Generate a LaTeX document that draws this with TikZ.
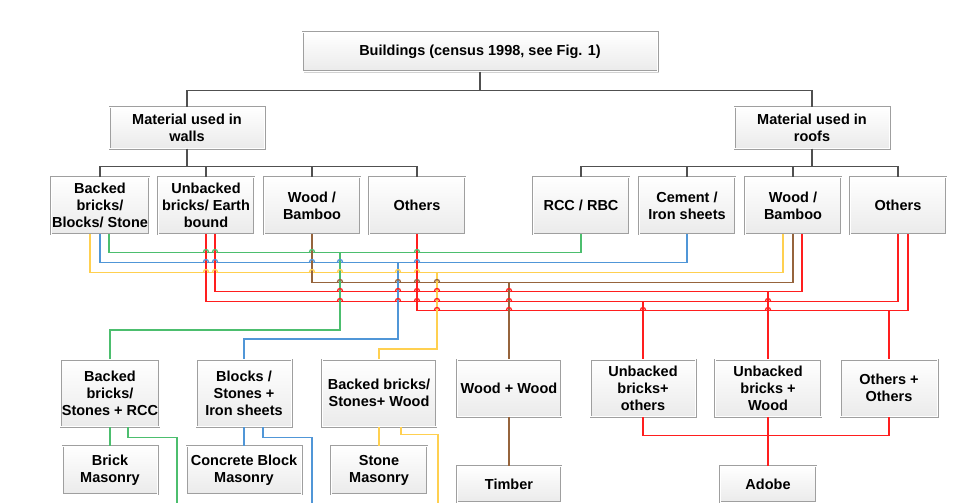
\documentclass[tikz,border=0pt]{standalone}
\usepackage{fontspec}
\setmainfont{Liberation Sans}
\usepackage{tikz}
\usetikzlibrary{calc,shadows}
\definecolor{tree}{RGB}{80,80,80}
\definecolor{lgreen}{RGB}{76,190,110}
\definecolor{lblue}{RGB}{80,150,215}
\definecolor{lyellow}{RGB}{255,208,80}
\definecolor{lbrown}{RGB}{150,100,60}
\definecolor{lred}{RGB}{255,30,30}
\def\hop[#1](#2,#3){\draw[#1] (#2-2.5,#3) arc (180:360:2.5);}

\begin{document}
\begin{tikzpicture}[x=1pt, y=-1pt,
		box/.style={draw=gray!75, double=white, double distance=0.8pt, line width=0.6pt,
			top color=white, bottom color=gray!16, align=center, inner sep=1pt,
			font=\bfseries\fontsize{14.5}{17}\selectfont,
			drop shadow={shadow xshift=1.3pt, shadow yshift=-1.3pt, fill=gray!70, opacity=0.5}},
		tree/.style={draw=tree, line width=1.1pt},
		gline/.style={draw=lgreen, line width=1.3pt},
		bline/.style={draw=lblue, line width=1.3pt},
		yline/.style={draw=lyellow, line width=1.3pt},
		brline/.style={draw=lbrown, line width=1.3pt},
		rline/.style={draw=lred, line width=1.3pt}]
			%%%%% START %%%%%
			\useasboundingbox[fill=white] (0,0) rectangle (970,503);
			
			\node[box, minimum width=355, minimum height=39] (top) at (480,52) {Buildings (census 1998, see Fig. 1)};
			\node[box, minimum width=155, minimum height=41] (walls) at (187,128) {Material used in\\walls};
			\node[box, minimum width=155, minimum height=41] (roofs) at (812,128) {Material used in\\roofs};
			
			\node[box, minimum width=96, minimum height=57] (w1) at (100,205.5) {Backed\\bricks/\\Blocks/ Stone};
			\node[box, minimum width=96, minimum height=57] (w2) at (206,205.5) {Unbacked\\bricks/ Earth\\bound};
			\node[box, minimum width=96, minimum height=57] (w3) at (312,205.5) {Wood /\\Bamboo};
			\node[box, minimum width=96, minimum height=57] (w4) at (417,205.5) {Others};
			\node[box, minimum width=96, minimum height=57] (r1) at (581,205.5) {RCC / RBC};
			\node[box, minimum width=96, minimum height=57] (r2) at (687,205.5) {Cement /\\Iron sheets};
			\node[box, minimum width=96, minimum height=57] (r3) at (793,205.5) {Wood /\\Bamboo};
			\node[box, minimum width=96, minimum height=57] (r4) at (898,205.5) {Others};
			
			\node[box, minimum width=95, minimum height=67] (a1) at (110,393) {Backed\\bricks/\\Stones + RCC};
			\node[box, minimum width=95, minimum height=67] (a2) at (244,393) {Blocks /\\Stones +\\Iron sheets};
			\node[box, minimum width=114, minimum height=67] (a3) at (379,393) {Backed bricks/\\Stones+ Wood};
			\node[box, minimum width=104, minimum height=57] (a4) at (509,388) {Wood + Wood};
			\node[box, minimum width=105, minimum height=57] (a5) at (643,388) {Unbacked\\bricks+\\others};
			\node[box, minimum width=106, minimum height=57] (a6) at (768,388) {Unbacked\\bricks +\\Wood};
			\node[box, minimum width=97, minimum height=57] (a7) at (889,388) {Others +\\Others};
			
			\node[box, minimum width=95, minimum height=48] (b1) at (110,470) {Brick\\Masonry};
			\node[box, minimum width=115, minimum height=48] (b2) at (244,470) {Concrete Block\\Masonry};
			\node[box, minimum width=96, minimum height=48] (b3) at (379,470) {Stone\\Masonry};
			\node[box, minimum width=104, minimum height=36] (b4) at (509,484) {Timber};
			\node[box, minimum width=96, minimum height=36] (b5) at (768,484) {Adobe};
			
			% tree
			\draw[tree] (top.south) -- ++(0,18.5) -| (walls.north);
			\draw[tree] (top.south) -- ++(0,18.5) -| (roofs.north);
			\foreach \n in {w1,w2,w3,w4} \draw[tree] (walls.south) -- ++(0,18) -| (\n.north);
			\foreach \n in {r1,r2,r3,r4} \draw[tree] (roofs.south) -- ++(0,18) -| (\n.north);
			
			% walls x roofs
			\draw[gline] ([xshift=9]w1.south) -- ++(0,18) -| (r1.south);
			\draw[bline] (w1.south) -- ++(0,28) -| (r2.south);
			\draw[yline] ([xshift=-10]w1.south) -- ++(0,38) -| ([xshift=-10]r3.south);
			\draw[brline] (w3.south) -- ++(0,48) -| (r3.south);
			\draw[rline] ([xshift=9]w2.south) -- ++(0,57) -| ([xshift=9]r3.south);
			\draw[rline] (w2.south) -- ++(0,67) -| (r4.south);
			\draw[rline] (w4.south) -- ++(0,76) -| ([xshift=10]r4.south);
			
			\coordinate (jg) at (340,252);
			\coordinate (jb) at (398,262);
			\coordinate (jy) at (437,272);
			\coordinate (jbr) at (509,282);
			\coordinate (jr1) at (768,291);
			\coordinate (jr2) at (643,301);
			\coordinate (jr3) at (889,310);
			
			\draw[gline] (jg) -- ++(0,78) -| (a1.north);
			\draw[bline] (jb) -- ++(0,77) -| (a2.north);
			\draw[yline] (jy) -- ++(0,77) -| (a3.north);
			\draw[brline] (jbr) -- (a4.north);
			\draw[rline] (jr2) -- (a5.north);
			\draw[rline] (jr1) -- (a6.north);
			\draw[rline] (jr3) -- (a7.north);
			
			% lower rows
			\coordinate (gend) at (177,503);
			\coordinate (bend) at (312,503);
			\coordinate (yend) at (438,503);
			\draw[gline] (a1.south) -- (b1.north);
			\draw[gline] ([xshift=18]a1.south) -- ++(0,10.5) -| (gend);
			\draw[bline] (a2.south) -- (b2.north);
			\draw[bline] ([xshift=19]a2.south) -- ++(0,10.5) -| (bend);
			\draw[yline] (a3.south) -- (b3.north);
			\draw[yline] ([xshift=22]a3.south) -- ++(0,8) -| (yend);
			\draw[brline] (a4.south) -- (b4.north);
			\draw[rline] (a5.south) -- ++(0,19) -| (a7.south);
			\draw[rline] (a6.south) -- (b5.north);
			
			% line jumps
			\foreach \x in {206,215,312,417} {\hop[gline](\x,252)}
			\foreach \x in {206,215,312,340,417} {\hop[bline](\x,262)}
			\foreach \x in {206,215,312,340,398,417} {\hop[yline](\x,272)}
			\foreach \x in {340,398,417,437} {\hop[brline](\x,282)}
			\foreach \x in {340,398,417,437,509} {\hop[rline](\x,291)}
			\foreach \x in {340,398,417,437,509,768} {\hop[rline](\x,301)}
			\foreach \x in {437,509,643,768} {\hop[rline](\x,310)}
			
			%%%%% END %%%%%
\end{tikzpicture}
\end{document}
